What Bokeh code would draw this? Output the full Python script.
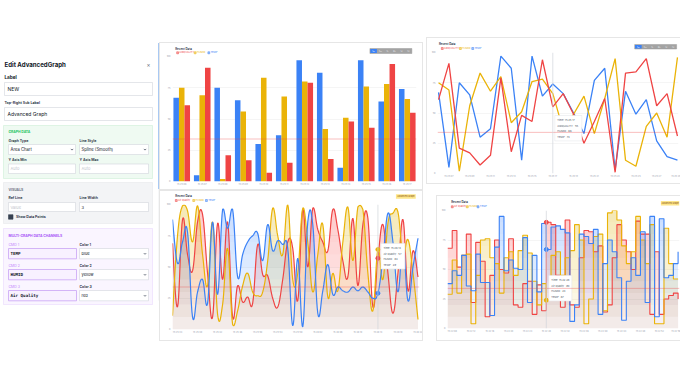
import numpy as np
from bokeh.plotting import figure
from bokeh.layouts import row, column
from bokeh.models import Range1d, FixedTicker, Span, Spacer, ColumnDataSource
from bokeh.transform import dodge
from bokeh.core.properties import value
from bokeh.embed import file_html
from bokeh.resources import INLINE

FONT = "Inter"
BLUE, YELLOW, RED = "#3b82f6", "#eab308", "#ef4444"

# ---------------- data ----------------
REF_LINE = 34

def hms(t):
    return "%02d:%02d:%02d" % (t // 3600, t % 3600 // 60, t % 60)

# live series (bar chart shows first 12 samples, line chart all 24)
live_times = [hms(15 * 3600 + 25 * 60 + 6 + i) for i in range(24)]
live_temp = [67, 5, 75, 65, 30, 37, 97, 87, 11, 97, 64, 74, 66, 50, 33, 77, 87, 3, 68, 49, 61, 27, 14, 11]
live_humid = [75, 69, 2, 56, 83, 68, 80, 42, 51, 76, 78, 66, 36, 49, 64, 33, 62, 95, 11, 6, 39, 50, 30, 96]
live_air = [61, 91, 21, 17, 7, 15, 79, 18, 48, 43, 94, 55, 66, 49, 25, 43, 62, 1, 83, 84, 95, 56, 66, 31]
live_hover = 11

# spline area chart
spl_times = [hms(15 * 3600 + 25 * 60 + 33 + i) for i in range(50)]
spl_air = [69, 18, 88, 60, 47, 86, 92, 45, 10, 85, 40, 86, 10, 35, 22, 26, 21, 68, 44, 43,
           25, 18, 40, 70, 65, 23, 96, 50, 97, 80, 70, 63, 96, 80, 55, 42, 89, 35, 84, 89,
           18, 57, 84, 45, 13, 45, 88, 31, 63, 42]
spl_humid = [11, 75, 99, 95, 70, 99, 60, 35, 86, 12, 20, 65, 4, 15, 35, 45, 30, 27, 30, 55,
             97, 75, 60, 100, 40, 45, 97, 70, 30, 60, 84, 26, 45, 31, 70, 98, 55, 98, 96, 45,
             15, 64, 40, 85, 93, 94, 60, 72, 45, 8]
spl_temp = [88, 53, 70, 78, 10, 30, 40, 21, 86, 28, 96, 81, 96, 42, 60, 70, 75, 77, 55, 84,
            63, 71, 68, 65, 3, 57, 2, 86, 84, 13, 31, 52, 28, 34, 31, 30, 34, 31, 34, 30,
            25, 29, 57, 93, 70, 30, 68, 23, 50, 73]
spl_hover = 41

# step area chart
stp_times = [hms(15 * 3600 + 22 * 60 + 7 + i) for i in range(50)]
stp_air = [68, 83, 52, 62, 80, 22, 73, 57, 10, 45, 75, 50, 47, 76, 20, 18, 38, 40, 12, 37,
           15, 90, 88, 45, 18, 92, 20, 18, 60, 83, 82, 65, 70, 14, 20, 60, 88, 75, 65, 50,
           91, 80, 80, 12, 65, 12, 25, 28, 30, 25]
stp_humid = [29, 58, 30, 62, 63, 4, 45, 75, 76, 60, 55, 30, 60, 65, 45, 66, 79, 64, 40, 20,
             38, 24, 62, 65, 45, 60, 66, 88, 75, 4, 25, 78, 80, 15, 98, 100, 92, 70, 55, 65,
             95, 75, 55, 88, 4, 4, 85, 55, 42, 42]
stp_temp = [38, 49, 45, 62, 36, 32, 63, 39, 39, 11, 69, 95, 49, 58, 51, 50, 77, 22, 62, 31,
            89, 67, 86, 87, 84, 81, 6, 20, 80, 78, 72, 84, 12, 55, 75, 65, 43, 7, 40, 60,
            45, 82, 22, 95, 10, 93, 43, 45, 55, 65]
stp_hover = 21

Y_TICKS = [0, 25, 50, 75, 100]
RANGES = ["1m", "5m", "1h", "6h", "1d", "7d"]

# ---------------- helpers ----------------
def chart(fig_box, frame_box, xr):
    fl, ft, fr, fb = fig_box
    l, t, r, b = frame_box
    p = figure(width=fr - fl, height=fb - ft, x_range=Range1d(*xr), y_range=Range1d(0, 100),
               output_backend="svg", toolbar_location=None, title=None,
               min_border_left=l - fl, min_border_right=fr - r,
               min_border_top=t - ft, min_border_bottom=fb - b)
    p.outline_line_color = None
    p.background_fill_color = "white"
    p.border_fill_color = "white"
    p.xgrid.grid_line_color = None
    p.ygrid.grid_line_color = "#eeeeee"
    p.ygrid.grid_line_width = 0.6
    p.yaxis.ticker = FixedTicker(ticks=Y_TICKS)
    for ax in (p.xaxis, p.yaxis):
        ax.axis_line_color = None
        ax.major_tick_line_color = None
        ax.minor_tick_line_color = None
        ax.major_tick_out = 0
        ax.major_tick_in = 0
        ax.major_label_text_font_size = "2.3px"
        ax.major_label_text_color = "#9ca3af"
        ax.major_label_text_font = FONT
        ax.major_label_standoff = 2

    def conv(px, py):
        return (xr[0] + (px - l) / (r - l) * (xr[1] - xr[0]), (b - py) / (b - t) * 100.0)

    def xpix(x):
        return l + (x - xr[0]) / (xr[1] - xr[0]) * (r - l)
    return p, conv, xpix


def header_fig(box, title, txy, items, ly):
    l, t, r, b = box
    h = figure(width=r - l, height=b - t, x_range=Range1d(l, r), y_range=Range1d(b, t),
               x_axis_type=None, y_axis_type=None, output_backend="svg",
               toolbar_location=None, title=None, min_border=0)
    h.outline_line_color = None
    h.background_fill_color = "white"
    h.border_fill_color = "white"
    h.text(x=[txy[0]], y=[txy[1]], text=[title], text_font=value(FONT),
           text_font_size=value("2.8px"), text_font_style="bold", text_color="#374151",
           text_baseline="middle")
    for name, color, px in items:
        h.quad(left=[px], right=[px + 2], top=[ly - 1], bottom=[ly + 1], fill_color=color,
               fill_alpha=0.45, line_color=color, line_width=0.5)
        h.text(x=[px + 2.8], y=[ly], text=[name], text_font=value(FONT),
               text_font_size=value("2.5px"), text_color=color, text_baseline="middle")
    return h


def pill(h, x0, x1, y0, y1):
    n = len(RANGES)
    sw = (x1 - x0) / n
    h.quad(left=[x0], right=[x1], top=[y0], bottom=[y1], fill_color="#a3a3a3", line_color="#9a9a9a",
           line_width=0.5)
    h.quad(left=[x0 + 0.4], right=[x0 + sw], top=[y0 + 0.4], bottom=[y1 - 0.4], fill_color=BLUE,
           line_color=None)
    xs = [x0 + sw * (k + 0.5) for k in range(n)]
    h.text(x=xs, y=[(y0 + y1) / 2] * n, text=RANGES, text_font=value(FONT),
           text_font_size=value("1.8px"), text_color=["white"] + ["#e5e7eb"] * (n - 1),
           text_align="center", text_baseline="middle")


def badge(h, x0, x1, y0, y1, text="Advanced Graph"):
    h.quad(left=[x0], right=[x1], top=[y0], bottom=[y1], fill_color="#fde68a", line_color=None)
    h.text(x=[(x0 + x1) / 2], y=[(y0 + y1) / 2], text=[text], text_font=value(FONT),
           text_font_size=value("2.2px"), text_color="#854d0e", text_align="center",
           text_baseline="middle")


def tooltip(p, conv, px0, py0, lines, w=27, lh=5.6):
    x0, y0 = conv(px0, py0)
    x1, y1 = conv(px0 + w, py0 + lh * len(lines) + 3)
    p.quad(left=[x0], right=[x1], top=[y0], bottom=[y1], fill_color="white",
           line_color="#e5e7eb", line_width=0.6)
    xs, ys = [], []
    for k in range(len(lines)):
        x, y = conv(px0 + 2.5, py0 + 4 + lh * k)
        xs.append(x)
        ys.append(y)
    p.text(x=xs, y=ys, text=lines, text_font=value(FONT), text_font_size=value("2.6px"),
           text_color="#4b5563", text_baseline="middle")


def ref_span(p):
    p.add_layout(Span(location=REF_LINE, dimension="width", line_color=RED,
                      line_alpha=0.35, line_width=1))


def smooth(ys, k=0.2, n=10):
    y = np.asarray(ys, float)
    x = np.arange(len(y), dtype=float)
    yp = np.concatenate([[y[0]], y, [y[-1]]])
    xp = np.concatenate([[x[0]], x, [x[-1]]])
    t = np.linspace(0, 1, n, endpoint=False)
    X, Y = [], []
    for i in range(len(y) - 1):
        p0 = np.array([xp[i], yp[i]])
        p1 = np.array([x[i], y[i]])
        p2 = np.array([x[i + 1], y[i + 1]])
        p3 = np.array([xp[i + 3], yp[i + 3]])
        c1 = p1 + k * (p2 - p0)
        c2 = p2 - k * (p3 - p1)
        c1[1] = min(max(c1[1], 0), 100)
        c2[1] = min(max(c2[1], 0), 100)
        bx = (1 - t) ** 3 * p1[0] + 3 * (1 - t) ** 2 * t * c1[0] + 3 * (1 - t) * t ** 2 * c2[0] + t ** 3 * p2[0]
        by = (1 - t) ** 3 * p1[1] + 3 * (1 - t) ** 2 * t * c1[1] + 3 * (1 - t) * t ** 2 * c2[1] + t ** 3 * p2[1]
        X.extend(bx)
        Y.extend(by)
    X.append(x[-1])
    Y.append(y[-1])
    return np.array(X), np.array(Y)

LEVELS = list(range(0, 100, 10))

def alpha_for(k):
    return 0.05 if k == 0 else 0.028

CARD = {"box-shadow": "0 0 0 1px #e6e6e6"}

# ---------------- chart 1: grouped bars ----------------
h1 = header_fig((160, 43, 422, 55), "Recent Data", (163, 48.3),
                [("AIRQUALITY", RED, 164.5), ("HUMID", YELLOW, 183.3), ("TEMP", BLUE, 198)], 52.3)
pill(h1, 372, 417, 48, 53)
p1, c1, x1 = chart((160, 55, 422, 189), (172, 56, 416, 181), (-0.45, 11.45))
src1 = ColumnDataSource(dict(i=list(range(12)), temp=live_temp[:12], humid=live_humid[:12], air=live_air[:12]))
W = 0.27
p1.vbar(x=dodge("i", -W), top="temp", width=W, source=src1, fill_color=BLUE, line_color=None)
p1.vbar(x="i", top="humid", width=W, source=src1, fill_color=YELLOW, line_color=None)
p1.vbar(x=dodge("i", W), top="air", width=W, source=src1, fill_color=RED, line_color=None)
p1.xaxis.ticker = FixedTicker(ticks=list(range(12)))
p1.xaxis.major_label_overrides = {i: live_times[i] for i in range(12)}
ref_span(p1)
card1 = column(h1, p1, styles={"box-shadow": "0 0 0 1px #e6e6e6, -2px 0 0 0 #a9c9f3"})

# ---------------- chart 2: lines ----------------
h2 = header_fig((427, 38, 680, 51), "Recent Data", (428.5, 43),
                [("AIRQUALITY", RED, 431), ("HUMID", YELLOW, 450), ("TEMP", BLUE, 463)], 48)
pill(h2, 634, 678, 44, 48.5)
p2, c2, x2 = chart((427, 51, 680, 183), (437, 52, 678, 173), (-0.1, 23.1))
xi = list(range(24))
p2.line(xi, live_temp, line_color=BLUE, line_width=1.3)
p2.line(xi, live_humid, line_color=YELLOW, line_width=1.3)
p2.line(xi, live_air, line_color=RED, line_width=1.3)
p2.xaxis.ticker = FixedTicker(ticks=list(range(1, 24, 2)))
p2.xaxis.major_label_overrides = {i: live_times[i] for i in range(1, 24, 2)}
ref_span(p2)
p2.add_layout(Span(location=live_hover, dimension="height", line_color="#d1d5db", line_width=0.7))
tooltip(p2, c2, x2(live_hover) + 2, 115,
        ["Time: " + live_times[live_hover], "AIRQUALITY : %d" % live_air[live_hover],
         "HUMID : %d" % live_humid[live_hover], "TEMP : %d" % live_temp[live_hover]])
card2 = column(h2, p2, styles=CARD)

# ---------------- chart 3: spline areas ----------------
h3 = header_fig((160, 191, 422, 203), "Recent Data", (163, 195.5),
                [("Air Quality", RED, 163), ("HUMID", YELLOW, 181.5), ("TEMP", BLUE, 195)], 200)
badge(h3, 397, 418, 193.8, 198.3)
p3, c3, x3 = chart((160, 203, 422, 340), (172, 204, 419, 329), (0, 49.3))
curves3 = [(spl_air, RED), (spl_humid, YELLOW), (spl_temp, BLUE)]
dense3 = [(smooth(vals), col) for vals, col in curves3]
for (xd, yd), col in dense3:
    for k, L in enumerate(LEVELS):
        p3.varea(x=xd, y1=L, y2=np.maximum(yd, L), fill_color=col, fill_alpha=alpha_for(k))
for (xd, yd), col in dense3:
    p3.line(xd, yd, line_color=col, line_width=1.2)
p3.xaxis.ticker = FixedTicker(ticks=list(range(1, 50, 4)))
p3.xaxis.major_label_overrides = {i: spl_times[i] for i in range(1, 50, 4)}
ref_span(p3)
p3.add_layout(Span(location=spl_hover, dimension="height", line_color="#d1d5db", line_width=0.7))
for vals, col in curves3:
    p3.scatter([spl_hover], [vals[spl_hover]], size=4, fill_color=col, line_color=col)
tooltip(p3, c3, x3(spl_hover) + 3, 243,
        ["Time: " + spl_times[spl_hover], "Air Quality : %d" % spl_air[spl_hover],
         "HUMID : %d" % spl_humid[spl_hover], "TEMP : %d" % spl_temp[spl_hover]], w=24)
card3 = column(h3, p3, styles=CARD)

# ---------------- chart 4: step areas ----------------
h4 = header_fig((437, 196, 680, 209), "Recent Data", (441, 201.5),
                [("Air Quality", RED, 441), ("HUMID", YELLOW, 456.7), ("TEMP", BLUE, 468)], 206.3)
badge(h4, 660.5, 680, 200.5, 205)
p4, c4, x4 = chart((437, 209, 680, 340), (447, 210, 679, 328), (0, 49.3))
xs4 = list(range(50))
curves4 = [(stp_air, RED), (stp_humid, YELLOW), (stp_temp, BLUE)]
for vals, col in curves4:
    v = np.asarray(vals, float)
    for k, L in enumerate(LEVELS):
        p4.varea_step(x=xs4, y1=[L] * 50, y2=np.maximum(v, L), step_mode="after",
                      fill_color=col, fill_alpha=alpha_for(k))
for vals, col in curves4:
    p4.step(xs4, vals, mode="after", line_color=col, line_width=1.1)
p4.xaxis.ticker = FixedTicker(ticks=list(range(1, 50, 4)))
p4.xaxis.major_label_overrides = {i: stp_times[i] for i in range(1, 50, 4)}
ref_span(p4)
p4.add_layout(Span(location=stp_hover, dimension="height", line_color="#d1d5db", line_width=0.7))
for vals, col in curves4:
    p4.scatter([stp_hover], [vals[stp_hover]], size=4, fill_color=col, line_color=col)
tooltip(p4, c4, x4(stp_hover) + 2.5, 275,
        ["Time: " + stp_times[stp_hover], "Air Quality : %d" % stp_air[stp_hover],
         "HUMID : %d" % stp_humid[stp_hover], "TEMP : %d" % stp_temp[stp_hover]], w=23)
card4 = column(h4, p4, styles=CARD)

# ---------------- left form panel ----------------
L = figure(width=160, height=340, x_range=Range1d(0, 160), y_range=Range1d(340, 0),
           x_axis_type=None, y_axis_type=None, output_backend="svg", toolbar_location=None,
           title=None, min_border=0)
L.outline_line_color = None
L.background_fill_color = "white"
L.border_fill_color = "white"


def T(x, y, s, size, color="#374151", style="normal", font=FONT, align="left"):
    L.text(x=[x], y=[y], text=[s], text_font=value(font), text_font_size=value(size),
           text_color=color, text_font_style=style, text_baseline="middle", text_align=align)


def box(l, r, t, b, fill="white", line="#d1d5db", lw=0.6):
    L.quad(left=[l], right=[r], top=[t], bottom=[b], fill_color=fill, line_color=line, line_width=lw)


def chevron(x, y):
    L.line([x - 1.2, x, x + 1.2], [y - 0.6, y + 0.6, y - 0.6], line_color="#374151", line_width=0.7)


L.line([158.6, 158.6], [44, 300], line_color="#e5e7eb", line_width=0.8)
T(4, 64, "Edit AdvancedGraph", "6.1px", "#111827", "bold")
T(150, 64, "\u00d7", "6px", "#6b7280", align="right")
T(4, 77, "Label", "4.6px", "#111827", "bold")
box(4, 152, 82, 95)
T(7, 88.5, "NEW", "5px", "#111827")
T(4, 102, "Top-Right Sub Label", "3.6px", "#374151", "bold")
box(4, 152, 107, 120)
T(7, 113.5, "Advanced Graph", "5px", "#111827")

# graph data section
box(3, 152, 125, 178, fill="#effaf2", line="#cdeed6")
T(8, 131.5, "GRAPH DATA", "3.4px", "#22c55e", "bold")
T(8, 140, "Graph Type", "3.5px", "#374151", "bold")
T(79, 140, "Line Style", "3.5px", "#374151", "bold")
box(8, 75, 144, 154)
box(79, 148, 144, 154)
T(10, 149, "Area Chart", "4.2px", "#111827")
T(81, 149, "Spline (Smooth)", "4.2px", "#111827")
chevron(71.5, 149)
chevron(144.5, 149)
T(8, 159.3, "Y Axis Min", "3.5px", "#374151", "bold")
T(79, 159.3, "Y Axis Max", "3.5px", "#374151", "bold")
box(8, 75, 163.5, 173)
box(79, 148, 163.5, 173)
T(10, 168.3, "Auto", "4px", "#c0c4cc")
T(81, 168.3, "Auto", "4px", "#c0c4cc")

# visuals section
box(3, 152, 182, 223, fill="#f3f4f6", line="#e5e7eb")
T(8, 189.3, "VISUALS", "3.4px", "#6b7280", "bold")
T(8, 197.7, "Ref Line", "3.5px", "#374151", "bold")
T(79, 197.7, "Line Width", "3.5px", "#374151", "bold")
box(8, 75, 202, 211)
box(79, 148, 202, 211)
T(10, 206.5, "Value", "4px", "#c0c4cc")
T(81, 206.5, "3", "4px", "#111827")
box(8, 12.5, 214.2, 218.7, fill="#374151", line="#374151")
T(15.5, 216.5, "Show Data Points", "3.5px", "#374151", "bold")

# multi channel section
box(3, 152, 228, 304, fill="#faf5ff", line="#ead8fd")
T(8, 235, "MULTI-GRAPH DATA CHANNELS", "3.4px", "#a855f7", "bold")
chans = [("CMD 1", "TEMP", "Color 1", "blue", 244),
         ("CMD 2", "HUMID", "Color 2", "yellow", 265),
         ("CMD 3", "Air Quality", "Color 3", "red", 286)]
for cmd, name, clab, cval, yy in chans:
    T(8, yy, cmd, "3.5px", "#c084fc")
    T(79, yy, clab, "3.5px", "#374151", "bold")
    box(8, 76, yy + 4, yy + 14.3, fill="#f8f1ff", line="#c9a3f5", lw=0.8)
    T(10, yy + 9.2, name, "4.2px", "#111827", "bold", font="DejaVu Sans Mono")
    box(79, 148, yy + 4, yy + 14.3)
    T(81, yy + 9.2, cval, "4px", "#111827")
    chevron(144.5, yy + 9.2)

# ---------------- layout ----------------
colA = column(Spacer(width=262, height=43), card1, Spacer(width=262, height=2), card3)
colB = column(Spacer(width=258, height=38),
              row(Spacer(width=5, height=145), card2),
              Spacer(width=258, height=13),
              row(Spacer(width=15, height=144), card4))
page = row(L, colA, colB)

open("out.html", "w").write(file_html(page, INLINE))
